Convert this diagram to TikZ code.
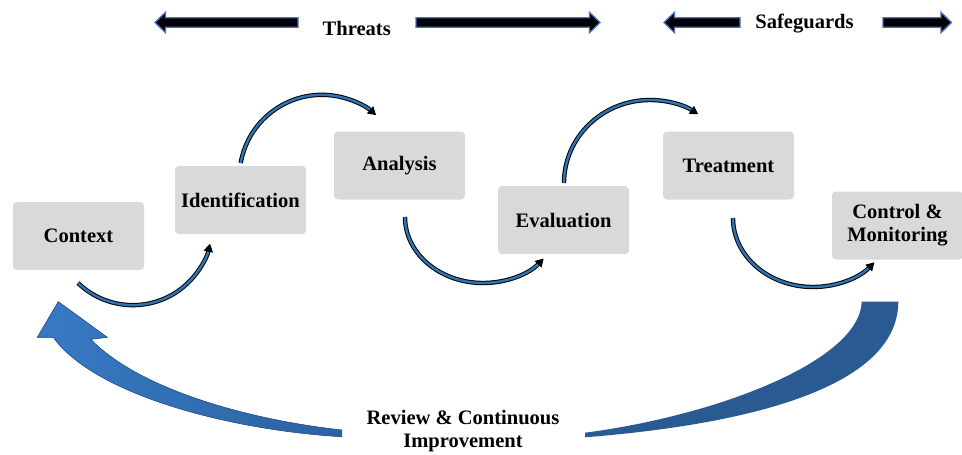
\documentclass[tikz,border=0pt]{standalone}
\usepackage{fontspec}
\setmainfont{Liberation Serif}
\usetikzlibrary{arrows.meta}
\definecolor{boxgray}{HTML}{D9D9D9}
\definecolor{arrowblue}{HTML}{2E75B6}
\definecolor{barblue}{HTML}{4472C4}
\definecolor{bigdark}{RGB}{41,90,145}
\definecolor{bigleft}{RGB}{55,122,196}
\definecolor{bigmid}{RGB}{44,98,160}
\definecolor{bigedge}{RGB}{47,85,151}
\begin{document}
\begin{tikzpicture}[x=0.75pt,y=-0.75pt,
  font=\bfseries\fontsize{15.4}{17.3}\selectfont,
  stage/.style={fill=boxgray, rounded corners=3pt, minimum width=98.25pt,
    minimum height=51pt, inner sep=0pt, align=center},
  flow/.style={draw=black, line width=0.75pt, double=arrowblue,
    double distance=1.8pt, -{Triangle[length=6pt,width=7pt]}},
  bararrow/.style={fill=black, draw=barblue, line width=1pt},
  label/.style={inner sep=0pt, anchor=base}]
\useasboundingbox (0,0) rectangle (962,454);

% stage boxes
\node[stage] (ctx) at (78.5,236)   {Context};
\node[stage] (idf) at (240.5,200)  {Identification};
\node[stage] (ana) at (399.5,165.5){Analysis};
\node[stage] (eva) at (563.5,220)  {Evaluation};
\node[stage] (trt) at (728.5,165.5){Treatment};
\node[stage] (ctl) at (897.5,225.5){Control \&\\Monitoring};

% curved connectors
\coordinate (s1) at (78,283);
\coordinate (s2) at (240.7,163);
\coordinate (s3) at (405,217);
\coordinate (s4) at (564,183);
\coordinate (s5) at (733,218);
\draw[flow] (s1) arc[start angle=133.9, end angle=13, radius=79.2];
\draw[flow] (s2) arc[start angle=190, end angle=311, radius=82.5];
\draw[flow] (s3) arc[start angle=180, end angle=39, x radius=78, y radius=66];
\draw[flow] (s4) arc[start angle=180, end angle=304, x radius=86, y radius=83];
\draw[flow] (s5) arc[start angle=180, end angle=40, x radius=80, y radius=69];

% top arrows
\draw[bararrow] (155,22.5) -- (165.5,12.3) -- (165.5,17.8) -- (298,17.8) -- (298,27.2)
  -- (165.5,27.2) -- (165.5,32.7) -- cycle;
\draw[bararrow] (600,22.5) -- (589.5,12.3) -- (589.5,17.8) -- (416,17.8) -- (416,27.2)
  -- (589.5,27.2) -- (589.5,32.7) -- cycle;
\draw[bararrow] (664,22.5) -- (674.5,12.3) -- (674.5,17.8) -- (740,17.8) -- (740,27.2)
  -- (674.5,27.2) -- (674.5,32.7) -- cycle;
\draw[bararrow] (951.5,22.5) -- (941,12.3) -- (941,17.8) -- (883,17.8) -- (883,27.2)
  -- (941,27.2) -- (941,32.7) -- cycle;
\node[label] (thr) at (356.7,35)  {Threats};
\node[label] (saf) at (804.5,28.3){Safeguards};

% big review arrow
\filldraw[left color=bigleft, right color=bigmid, draw=bigedge, line width=0.5pt]
  (58.3,301.7) -- (107.3,337.3) -- (90.7,339.3)
  .. controls (140,390) and (250,420) .. (341.7,430) -- (341.7,436.7)
  .. controls (230,430) and (95,395) .. (53.3,337.3) -- (37.3,337.3) -- cycle;
\fill[bigdark] (861.7,301.7) -- (898.3,301.7)
  .. controls (898,390) and (740,425) .. (585,437.3) -- (585,432.7)
  .. controls (720,415) and (860,360) .. (861.7,301.7) -- cycle;
\node[align=center, inner sep=0pt] (rev) at (463,431) {Review \& Continuous\\Improvement};
\end{tikzpicture}
\end{document}
